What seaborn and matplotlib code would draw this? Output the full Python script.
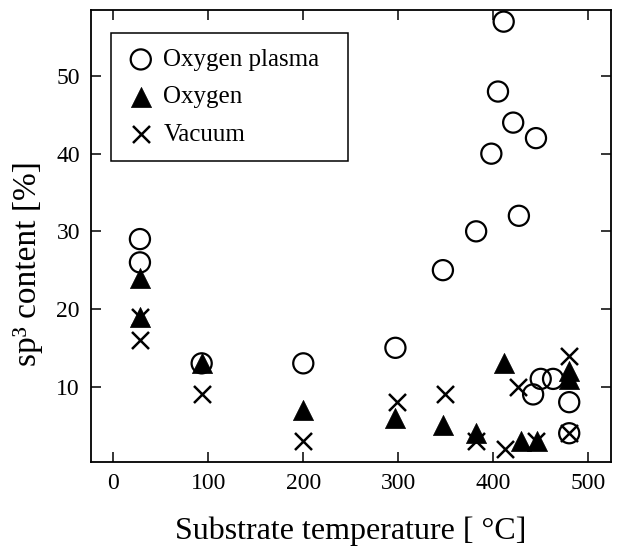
import matplotlib
matplotlib.use("Agg")
import matplotlib.pyplot as plt
import seaborn as sns
import pandas as pd

# Oxygen plasma anneal
plasma_temp = [28, 28, 93, 200, 297, 347, 382, 398, 405, 411, 421, 427, 445, 442, 450, 463, 480, 480]
plasma_sp3 = [29, 26, 13, 13, 15, 25, 30, 40, 48, 57, 44, 32, 42, 9, 11, 11, 8, 4]

# Oxygen anneal
oxygen_temp = [28, 28, 93, 200, 297, 347, 382, 411, 429, 446, 480, 480]
oxygen_sp3 = [24, 19, 13, 7, 6, 5, 4, 13, 3, 3, 12, 11]

# Vacuum anneal
vacuum_temp = [28, 28, 93, 200, 299, 349, 382, 412, 426, 445, 480, 480]
vacuum_sp3 = [19, 16, 9, 3, 8, 9, 3, 2, 10, 3, 14, 4]

series_names = ["Oxygen plasma", "Oxygen", "Vacuum"]
x_ticks = [0, 100, 200, 300, 400, 500]
y_ticks = [10, 20, 30, 40, 50]

plasma = pd.DataFrame({"T": plasma_temp, "sp3": plasma_sp3})
oxygen = pd.DataFrame({"T": oxygen_temp, "sp3": oxygen_sp3})
vacuum = pd.DataFrame({"T": vacuum_temp, "sp3": vacuum_sp3})

sns.set_style("ticks")
plt.rcParams["font.family"] = ["Liberation Serif", "DejaVu Serif"]
plt.rcParams["text.color"] = "black"
plt.rcParams["axes.labelcolor"] = "black"
plt.rcParams["xtick.color"] = "black"
plt.rcParams["ytick.color"] = "black"

fig = plt.figure(figsize=(6.2, 5.49), dpi=100)
ax = fig.add_axes([0.1468, 0.1585, 0.8387, 0.8233])

sns.scatterplot(data=plasma, x="T", y="sp3", ax=ax, marker="o", s=210,
                facecolor="none", edgecolor="black", linewidth=1.6,
                label=series_names[0], zorder=3)
sns.scatterplot(data=oxygen, x="T", y="sp3", ax=ax, marker="^", s=210,
                color="black", edgecolor="black", linewidth=0.5,
                label=series_names[1], zorder=3)
sns.scatterplot(data=vacuum, x="T", y="sp3", ax=ax, marker="x", s=150,
                color="black", linewidth=1.8,
                label=series_names[2], zorder=3)

ax.set_xlim(-23.5, 524)
ax.set_ylim(0.3, 58.5)
ax.set_xticks(x_ticks)
ax.set_yticks(y_ticks)
ax.tick_params(axis="both", direction="in", length=7, width=1.1,
               top=True, right=True, labelsize=17, pad=8,
               colors="black", labelcolor="black")
for sp in ax.spines.values():
    sp.set_linewidth(1.3)
    sp.set_color("black")

ax.set_xlabel("Substrate temperature [ \u00b0C]", fontsize=23, labelpad=16,
              color="black")
ax.set_ylabel("sp\u00b3 content [%]", fontsize=24, color="black")
ax.yaxis.set_label_coords(-0.093, 0.44)

leg = ax.legend(loc="upper left", bbox_to_anchor=(0.038, 0.0, 0.456, 0.948),
                mode="expand", borderaxespad=0, fontsize=18, frameon=True,
                fancybox=False, framealpha=1, edgecolor="black",
                labelspacing=0.6, handletextpad=0.3, borderpad=0.6,
                handlelength=1.2)
leg.get_frame().set_linewidth(1.1)
for t in leg.get_texts():
    t.set_color("black")

fig.savefig("out.png", dpi=100)
